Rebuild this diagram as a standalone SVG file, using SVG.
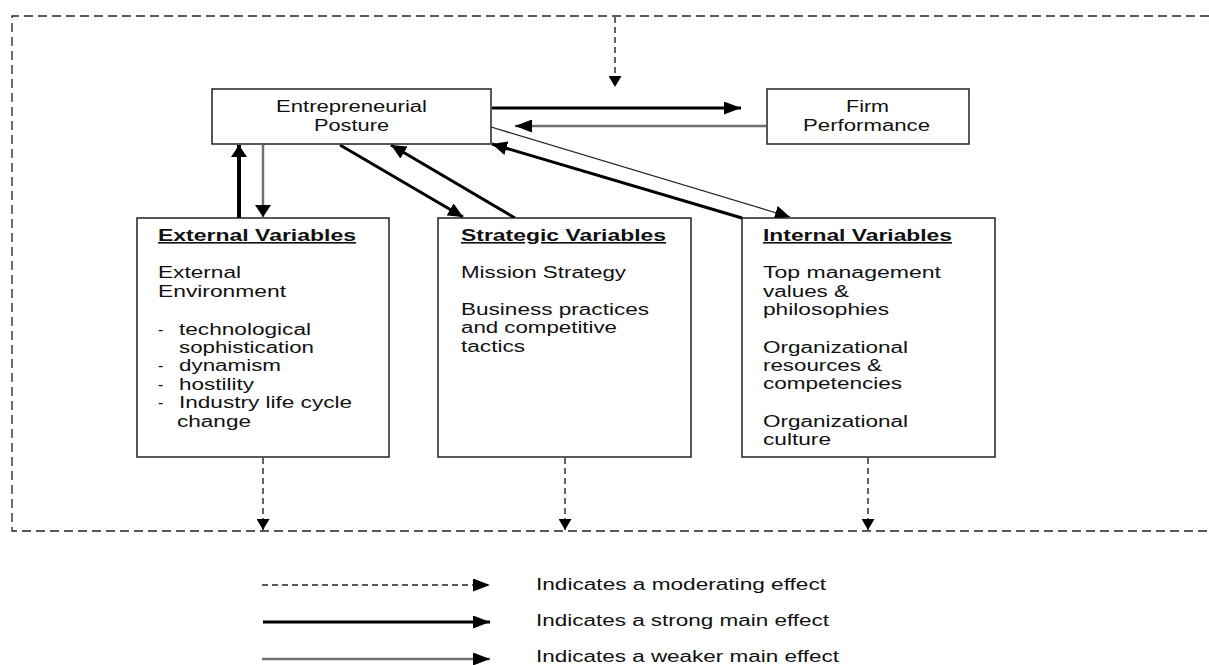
<svg xmlns="http://www.w3.org/2000/svg" width="1209" height="665" viewBox="0 0 1209 665">
<style>
  text { font-family: "Liberation Sans", Arial, sans-serif; font-size: 16px; fill: #111; }
  .hd { font-weight: bold; text-decoration: underline; }
  .box { fill: #fff; stroke: #222; stroke-width: 1.5; }
  .frame { fill: none; stroke: #222; stroke-width: 1.3; stroke-dasharray: 9 5; }
  .mod { fill: none; stroke: #222; stroke-width: 1.4; stroke-dasharray: 6 4; }
  .strong { fill: none; stroke: #000; stroke-width: 3; }
  .strongv { fill: none; stroke: #000; stroke-width: 4; }
  .weak { fill: none; stroke: #707070; stroke-width: 2.5; }
  .thin { fill: none; stroke: #222; stroke-width: 1.3; }
</style>
<defs>
  <marker id="hh" markerUnits="userSpaceOnUse" markerWidth="18" markerHeight="13" refX="17" refY="6.5" orient="auto"><path d="M0,0 L17,6.5 L0,13 Z" fill="#000"/></marker>
  <marker id="hv" markerUnits="userSpaceOnUse" markerWidth="13" markerHeight="16" refX="12" refY="8" orient="auto"><path d="M0,0 L12,8 L0,16 Z" fill="#000"/></marker>
  <marker id="hd" markerUnits="userSpaceOnUse" markerWidth="16" markerHeight="14" refX="15" refY="7" orient="auto"><path d="M0,0 L15,7 L0,14 Z" fill="#000"/></marker>
  <marker id="hm" markerUnits="userSpaceOnUse" markerWidth="12" markerHeight="13" refX="11" refY="6.5" orient="auto"><path d="M0,0 L11,6.5 L0,13 Z" fill="#000"/></marker>
</defs>

<g id="frame">
  <path class="frame" d="M1209,16 H12 V531 H1209"/>
</g>

<g id="connectors">
  <!-- moderating effects -->
  <path class="mod" d="M615,17 V87" marker-end="url(#hm)"/>
  <path class="mod" d="M263,458 V530" marker-end="url(#hm)"/>
  <path class="mod" d="M565,458 V530" marker-end="url(#hm)"/>
  <path class="mod" d="M868,458 V530" marker-end="url(#hm)"/>
  <!-- EP <-> Firm Performance -->
  <path class="strong" d="M492,108 H741" marker-end="url(#hh)"/>
  <path class="weak" d="M766,126 H515" marker-end="url(#hh)"/>
  <!-- EP <-> External -->
  <path class="strongv" d="M239,218 V145" marker-end="url(#hv)"/>
  <path class="weak" d="M263,145 V217" marker-end="url(#hv)"/>
  <!-- EP <-> Strategic -->
  <path class="strong" d="M340,145 L463,217" marker-end="url(#hd)"/>
  <path class="strong" d="M515,218 L391,145" marker-end="url(#hd)"/>
  <!-- EP <-> Internal -->
  <path class="strong" d="M742,218 L492,144" marker-end="url(#hd)"/>
  <path class="thin" d="M491,127 L790,217" marker-end="url(#hd)"/>
</g>

<g id="entrepreneurial-posture">
  <rect class="box" x="212" y="89" width="279" height="55"/>
  <text x="276" y="112" textLength="151" lengthAdjust="spacingAndGlyphs">Entrepreneurial</text>
  <text x="314" y="131" textLength="75" lengthAdjust="spacingAndGlyphs">Posture</text>
</g>

<g id="firm-performance">
  <rect class="box" x="767" y="89" width="202" height="55"/>
  <text x="846" y="112" textLength="43" lengthAdjust="spacingAndGlyphs">Firm</text>
  <text x="803" y="131" textLength="127" lengthAdjust="spacingAndGlyphs">Performance</text>
</g>

<g id="external-variables">
  <rect class="box" x="137" y="218" width="252" height="239"/>
  <text class="hd" x="158" y="241" textLength="198" lengthAdjust="spacingAndGlyphs">External Variables</text>
  <text x="158" y="278" textLength="83" lengthAdjust="spacingAndGlyphs">External</text>
  <text x="158" y="297" textLength="128" lengthAdjust="spacingAndGlyphs">Environment</text>
  <text x="158" y="335">-</text>
  <text x="179" y="335" textLength="132" lengthAdjust="spacingAndGlyphs">technological</text>
  <text x="179" y="353" textLength="135" lengthAdjust="spacingAndGlyphs">sophistication</text>
  <text x="158" y="371">-</text>
  <text x="179" y="371" textLength="102" lengthAdjust="spacingAndGlyphs">dynamism</text>
  <text x="158" y="390">-</text>
  <text x="179" y="390" textLength="75" lengthAdjust="spacingAndGlyphs">hostility</text>
  <text x="158" y="408">-</text>
  <text x="179" y="408" textLength="173" lengthAdjust="spacingAndGlyphs">Industry life cycle</text>
  <text x="177" y="427" textLength="74" lengthAdjust="spacingAndGlyphs">change</text>
</g>

<g id="strategic-variables">
  <rect class="box" x="438" y="218" width="253" height="239"/>
  <text class="hd" x="461" y="241" textLength="205" lengthAdjust="spacingAndGlyphs">Strategic Variables</text>
  <text x="461" y="278" textLength="165" lengthAdjust="spacingAndGlyphs">Mission Strategy</text>
  <text x="461" y="315" textLength="188" lengthAdjust="spacingAndGlyphs">Business practices</text>
  <text x="461" y="333" textLength="156" lengthAdjust="spacingAndGlyphs">and competitive</text>
  <text x="461" y="352" textLength="64" lengthAdjust="spacingAndGlyphs">tactics</text>
</g>

<g id="internal-variables">
  <rect class="box" x="742" y="218" width="253" height="239"/>
  <text class="hd" x="763" y="241" textLength="189" lengthAdjust="spacingAndGlyphs">Internal Variables</text>
  <text x="763" y="278" textLength="178" lengthAdjust="spacingAndGlyphs">Top management</text>
  <text x="763" y="297" textLength="86" lengthAdjust="spacingAndGlyphs">values &amp;</text>
  <text x="763" y="315" textLength="126" lengthAdjust="spacingAndGlyphs">philosophies</text>
  <text x="763" y="353" textLength="145" lengthAdjust="spacingAndGlyphs">Organizational</text>
  <text x="763" y="371" textLength="119" lengthAdjust="spacingAndGlyphs">resources &amp;</text>
  <text x="763" y="389" textLength="139" lengthAdjust="spacingAndGlyphs">competencies</text>
  <text x="763" y="427" textLength="145" lengthAdjust="spacingAndGlyphs">Organizational</text>
  <text x="763" y="445" textLength="68" lengthAdjust="spacingAndGlyphs">culture</text>
</g>

<g id="legend">
  <path class="mod" d="M262,585 H490" stroke-dasharray="7 6" marker-end="url(#hh)"/>
  <path class="strong" d="M263,622 H490" marker-end="url(#hh)"/>
  <path class="weak" d="M262,659 H490" stroke-width="3" marker-end="url(#hh)"/>
  <text x="536" y="590" textLength="290" lengthAdjust="spacingAndGlyphs">Indicates a moderating effect</text>
  <text x="536" y="626" textLength="293" lengthAdjust="spacingAndGlyphs">Indicates a strong main effect</text>
  <text x="536" y="662" textLength="303" lengthAdjust="spacingAndGlyphs">Indicates a weaker main effect</text>
</g>
</svg>
